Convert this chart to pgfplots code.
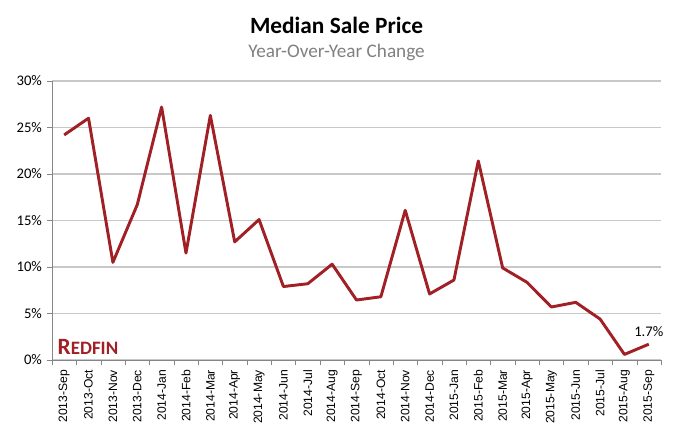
\documentclass[border=0pt]{standalone}
\usepackage{pgfplots}
\pgfplotsset{compat=1.18}
\usepackage{fontspec}
\setmainfont{Carlito}
\newfontfamily\arialfont{Liberation Sans}
\definecolor{redfin}{RGB}{160,32,38}
\definecolor{gridgray}{RGB}{200,200,200}
\definecolor{axgray}{RGB}{134,134,134}
\definecolor{subgray}{RGB}{128,128,128}

\begin{document}
\begin{tikzpicture}
\path[use as bounding box] (-39pt,-55.5pt) rectangle (466.5pt,270pt);
\begin{axis}[
    scale only axis,
    width=456.75pt, height=209.25pt,
    xmin=-0.5, xmax=24.5,
    ymin=0, ymax=30,
    axis lines=left,
    axis line style={axgray, -},
    ytick={0,5,...,30},
    yticklabel={\pgfmathprintnumber{\tick}\%},
    ymajorgrids,
    grid style={gridgray, line width=0.8pt},
    xtick={0,...,24},
    xticklabels={2013-Sep,2013-Oct,2013-Nov,2013-Dec,2014-Jan,2014-Feb,2014-Mar,2014-Apr,2014-May,2014-Jun,2014-Jul,2014-Aug,2014-Sep,2014-Oct,2014-Nov,2014-Dec,2015-Jan,2015-Feb,2015-Mar,2015-Apr,2015-May,2015-Jun,2015-Jul,2015-Aug,2015-Sep},
    x tick label style={rotate=90, anchor=east, font=\arialfont\fontsize{9.1}{10}\selectfont},
    y tick label style={font=\fontsize{11}{12}\selectfont},
    /pgf/number format/assume math mode=true,
    major x tick style={draw=none},
    minor xtick={-0.5,0.5,...,24.5},
    minor x tick style={axgray},
    minor tick length=4pt,
    major y tick style={axgray},
    tick align=outside,
    major tick length=4pt,
    clip=false,
]
\addplot[redfin, line width=2.2pt, line join=round] coordinates {
(0,24.2) (1,26.0) (2,10.5) (3,16.7) (4,27.2) (5,11.5) (6,26.3) (7,12.7)
(8,15.1) (9,7.9) (10,8.2) (11,10.3) (12,6.45) (13,6.8) (14,16.1) (15,7.1)
(16,8.6) (17,21.4) (18,9.9) (19,8.35) (20,5.7) (21,6.2) (22,4.4) (23,0.6) (24,1.7)
};
\node[font=\fontsize{11}{12}\selectfont, inner sep=0pt] at (axis cs:24,3.1) {1.7\%};
\node[anchor=south west, text=redfin, font=\bfseries\fontsize{17.5}{18}\selectfont, inner sep=0pt] at (rel axis cs:0.009,0.02) {R\fontsize{14.2}{15}\selectfont EDFIN};
\end{axis}
\node[font=\bfseries\fontsize{17.5}{19}\selectfont] at (213.4pt,251.25pt) {Median Sale Price};
\node[text=subgray, font=\fontsize{14.4}{16}\selectfont] at (213.4pt,231pt) {Year-Over-Year Change};
\end{tikzpicture}
\end{document}
